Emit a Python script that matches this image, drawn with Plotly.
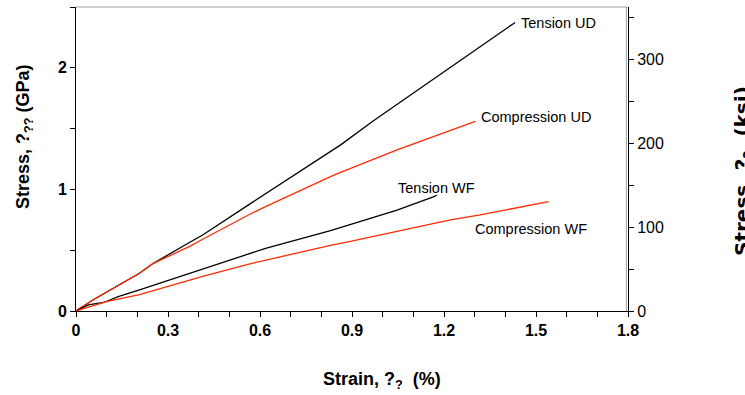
import plotly.graph_objects as go

# Strain (%) and stress (GPa)
tension_ud_strain = [0, 0.055, 0.207, 0.251, 0.374, 0.413, 0.57, 0.618, 0.70, 0.788, 0.863, 0.97, 1.047, 1.165, 1.253, 1.297, 1.432]
tension_ud_stress = [0, 0.09, 0.31, 0.39, 0.57, 0.625, 0.885, 0.965, 1.095, 1.243, 1.366, 1.565, 1.70, 1.905, 2.06, 2.135, 2.373]

comp_ud_strain = [0, 0.055, 0.207, 0.251, 0.374, 0.413, 0.57, 0.618, 0.83, 0.863, 1.047, 1.188, 1.221, 1.302]
comp_ud_stress = [0, 0.09, 0.31, 0.39, 0.535, 0.59, 0.80, 0.858, 1.105, 1.14, 1.325, 1.455, 1.487, 1.56]

tension_wf_strain = [0, 0.04, 0.09, 0.14, 0.207, 0.374, 0.413, 0.57, 0.618, 0.83, 0.895, 1.047, 1.165, 1.177]
tension_wf_stress = [0, 0.05, 0.07, 0.12, 0.173, 0.31, 0.343, 0.477, 0.515, 0.66, 0.71, 0.83, 0.938, 0.952]

comp_wf_strain = [0, 0.099, 0.207, 0.309, 0.374, 0.413, 0.57, 0.618, 0.83, 0.895, 1.047, 1.221, 1.318, 1.541]
comp_wf_stress = [0, 0.077, 0.135, 0.21, 0.26, 0.285, 0.39, 0.418, 0.54, 0.573, 0.653, 0.749, 0.79, 0.90]

labels = ["Tension UD", "Compression UD", "Tension WF", "Compression WF"]
label_x = [1.445, 1.315, 1.045, 1.296]
label_y = [2.37, 1.597, 1.012, 0.675]

x_tick_vals = [0, 0.3, 0.6, 0.9, 1.2, 1.5, 1.8]
x_tick_text = ["0", "0.3", "0.6", "0.9", "1.2", "1.5", "1.8"]
left_tick_vals = [0, 1, 2]
right_tick_vals = [0, 100, 200, 300]

GPA_PER_KSI = 0.006894757
Y_MAX = 2.5

BLACK = "#000000"
RED = "#FF2A00"

fig = go.Figure()
series = [
    (tension_ud_strain, tension_ud_stress, BLACK),
    (comp_ud_strain, comp_ud_stress, RED),
    (tension_wf_strain, tension_wf_stress, BLACK),
    (comp_wf_strain, comp_wf_stress, RED),
]
for xs, ys, c in series:
    fig.add_trace(go.Scatter(x=xs, y=ys, mode="lines", line=dict(color=c, width=1.3), showlegend=False))

# invisible trace to activate the right axis
fig.add_trace(go.Scatter(x=[0], y=[0], yaxis="y2", mode="markers", marker=dict(opacity=0), showlegend=False, hoverinfo="skip"))

for t, lx, ly in zip(labels, label_x, label_y):
    fig.add_annotation(x=lx, y=ly, text=t, showarrow=False, xanchor="left", yanchor="middle",
                       font=dict(family="Liberation Sans, Arial", size=14.5, color="black"))

W, H = 745, 395
L, R, T, B = 76, 117, 7, 84
pw, ph = W - L - R, H - T - B

def px(xp):
    return (xp - L) / pw

def py(yp):
    return (H - B - yp) / ph

fig.add_annotation(xref="paper", yref="paper", x=px(24), y=py(137), text="Stress, ?<sub>??</sub> (GPa)",
                   textangle=-90, showarrow=False, xanchor="center", yanchor="middle",
                   font=dict(family="Liberation Sans, Arial", size=18, color="black", weight="bold"))
fig.add_annotation(xref="paper", yref="paper", x=px(382), y=py(380), text="Strain, ?<sub>?</sub>  (%)",
                   showarrow=False, xanchor="center", yanchor="middle",
                   font=dict(family="Liberation Sans, Arial", size=18, color="black", weight="bold"))
fig.add_annotation(xref="paper", yref="paper", x=px(743), y=py(171), text="Stress, ?<sub>?</sub>  (ksi)",
                   textangle=-90, showarrow=False, xanchor="center", yanchor="middle",
                   font=dict(family="DejaVu Sans", size=20, color="black", weight="bold"))

# top and right gray frame lines
fig.add_shape(type="line", xref="paper", yref="paper", x0=0, x1=1, y0=1, y1=1, line=dict(color="#a0a0a0", width=1))
fig.add_shape(type="line", xref="paper", yref="paper", x0=0.997, x1=0.997, y0=0, y1=1, line=dict(color="#a0a0a0", width=1))

fig.update_layout(
    width=W, height=H,
    margin=dict(l=L, r=R, t=T, b=B),
    paper_bgcolor="white", plot_bgcolor="white",
    showlegend=False,
    xaxis=dict(range=[0, 1.8], tickvals=x_tick_vals, ticktext=x_tick_text, showgrid=False, zeroline=False,
               showline=True, linecolor="black", linewidth=1, ticks="outside", ticklen=5, tickcolor="black",
               tickfont=dict(family="Liberation Sans, Arial", size=16, color="black", weight="bold"),
               minor=dict(dtick=0.1, tick0=0, ticks="outside", ticklen=5, tickcolor="black", showgrid=False)),
    yaxis=dict(range=[0, Y_MAX], tickvals=left_tick_vals, showgrid=False, zeroline=False,
               showline=True, linecolor="black", linewidth=1, ticks="outside", ticklen=5, tickcolor="black",
               tickfont=dict(family="Liberation Sans, Arial", size=16, color="black", weight="bold"),
               minor=dict(dtick=0.5, tick0=0, ticks="outside", ticklen=5, tickcolor="black", showgrid=False)),
    yaxis2=dict(range=[0, Y_MAX / GPA_PER_KSI], tickvals=right_tick_vals, overlaying="y", side="right",
                showgrid=False, zeroline=False, showline=True, linecolor="black", linewidth=1,
                ticks="outside", ticklen=5, tickcolor="black",
                tickfont=dict(family="Liberation Sans, Arial", size=16, color="black"),
                minor=dict(dtick=50, tick0=0, ticks="outside", ticklen=5, tickcolor="black", showgrid=False)),
)

fig.write_html("out.html")
